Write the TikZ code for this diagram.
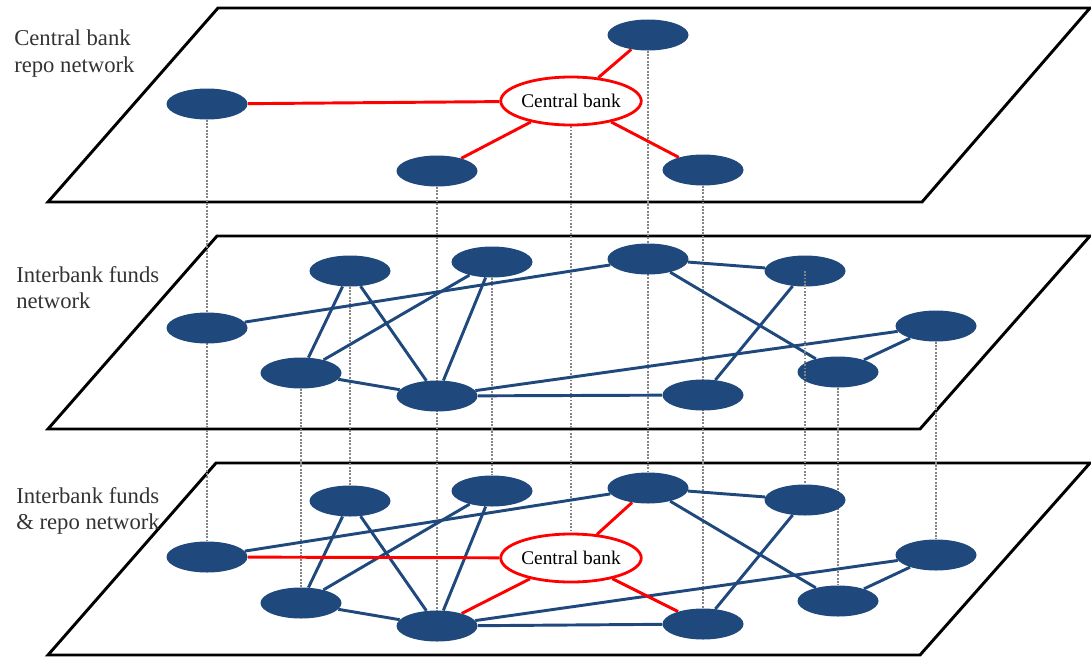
\documentclass[tikz,border=0pt]{standalone}
\usepackage{fontspec}
\setmainfont{Liberation Serif}
\usetikzlibrary{shapes.geometric}
\pgfdeclarelayer{background}
\pgfsetlayers{background,main}
\definecolor{bankblue}{HTML}{1F497D}
\definecolor{labelgray}{HTML}{333333}
\begin{document}
\begin{tikzpicture}[x=0.75pt,y=-0.75pt,
  plane/.style={draw=black,line width=2.2pt,fill=white,line join=miter},
  bank/.style={ellipse,fill=bankblue,minimum width=60.75pt,minimum height=23.25pt,inner sep=0pt},
  cbank/.style={ellipse,draw=red,line width=2.1pt,fill=white,minimum width=94pt,minimum height=36pt,
    inner sep=0pt,font=\fontsize{14.5}{17}\selectfont},
  loan/.style={draw=bankblue,line width=2.2pt},
  repo/.style={draw=red,line width=2.2pt},
  tie/.style={draw=black!48,line width=1.6pt,dash pattern=on 1.3pt off 1.2pt},
  layerlabel/.style={anchor=north west,inner sep=0pt,align=left,text=labelgray,
    font=\fontsize{17}{20}\selectfont}
]
\useasboundingbox (0,0) rectangle (1091,657);

% ---- repo layer ----
\node[bank] (a1) at (207,104) {};
\node[bank] (a6) at (648,35) {};
\node[bank] (a5) at (437,171) {};
\node[bank] (a7) at (703,170) {};
\node[cbank] (cba) at (571,101) {Central bank};

% ---- interbank layer ----
\node[bank] (m1) at (207,328) {};
\node[bank] (m2) at (350,271) {};
\node[bank] (m3) at (301,373) {};
\node[bank] (m4) at (492,262) {};
\node[bank] (m5) at (437,396) {};
\node[bank] (m6) at (648,259) {};
\node[bank] (m7) at (703,395) {};
\node[bank] (m8) at (805,271) {};
\node[bank] (m9) at (936,326) {};
\node[bank] (m10) at (838,372) {};

% ---- combined layer ----
\node[bank] (b1) at (207,557) {};
\node[bank] (b2) at (350,501) {};
\node[bank] (b3) at (301,603) {};
\node[bank] (b4) at (492,491) {};
\node[bank] (b5) at (437,626) {};
\node[bank] (b6) at (648,488) {};
\node[bank] (b7) at (703,624) {};
\node[bank] (b8) at (805,500) {};
\node[bank] (b9) at (936,555) {};
\node[bank] (b10) at (838,601) {};
\node[cbank] (cbb) at (571,558) {Central bank};

% ---- layer titles ----
\node[layerlabel] (t1) at (14,30) {Central bank\\repo network};
\node[layerlabel] (t2) at (16,266) {Interbank funds\\network};
\node[layerlabel] (t3) at (16,487) {Interbank funds\\\&~repo network};

\begin{pgfonlayer}{background}
  % planes
  \draw[plane] (218,8) -- (1090,8) -- (922,202) -- (48,202) -- cycle;
  \draw[plane] (217,236) -- (1090,236) -- (920,429) -- (48,429) -- cycle;
  \draw[plane] (216,463) -- (1090,463) -- (920,655) -- (48,655) -- cycle;

  % vertical ties between the same bank on different layers
  \draw[tie] (a1) -- (b1);
  \draw[tie] (a5) -- (b5);
  \draw[tie] (cba) -- (cbb);
  \draw[tie] (a6) -- (b6);
  \draw[tie] (a7) -- (b7);
  \draw[tie] (m2) -- (b2);
  \draw[tie] (m3) -- (b3);
  \draw[tie] (m4) -- (b4);
  \draw[tie] (m9) -- (b9);
  \draw[tie] (m10) -- (b10);

  % repo links
  \draw[repo] (cba) -- (a1);
  \draw[repo] (cba) -- (a6);
  \draw[repo] (cba) -- (a5);
  \draw[repo] (cba) -- (a7);

  % interbank links
  \foreach \p in {m,b}{
    \draw[loan] (\p1) -- (\p6);
    \draw[loan] (\p2) -- (\p3);
    \draw[loan] (\p2) -- (\p5);
    \draw[loan] (\p3) -- (\p4);
    \draw[loan] (\p4) -- (\p5);
    \draw[loan] (\p3) -- (\p5);
    \draw[loan] (\p5) -- (\p9);
    \draw[loan] (\p5) -- (\p7);
    \draw[loan] (\p6) -- (\p8);
    \draw[loan] (\p6) -- (\p10);
    \draw[loan] (\p8) -- (\p7);
    \draw[loan] (\p9) -- (\p10);
  }

  % repo links on the combined layer
  \draw[repo] (cbb) -- (b1);
  \draw[repo] (cbb) -- (b6);
  \draw[repo] (cbb) -- (b5);
  \draw[repo] (cbb) -- (b7);
\end{pgfonlayer}

% tie drawn over the nodes it crosses
\draw[tie] (m8.center) -- (b8);
\end{tikzpicture}
\end{document}
